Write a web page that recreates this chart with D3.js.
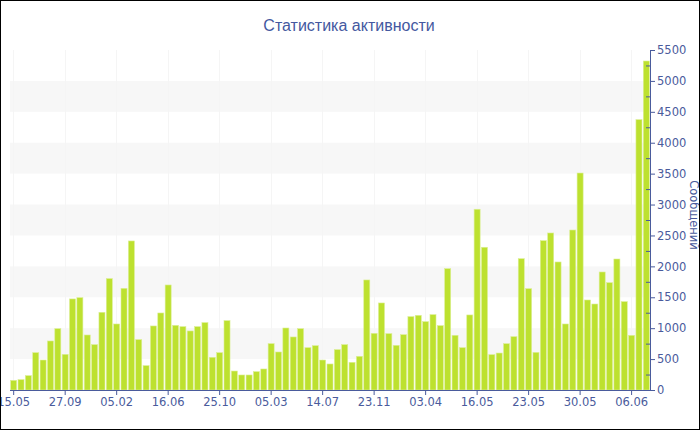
<!DOCTYPE html>
<html>
<head>
<meta charset="utf-8">
<script src="https://cdn.jsdelivr.net/npm/d3@7"></script>
<style>
  html, body { margin: 0; padding: 0; background: #fff; }
  svg { display: block; }
</style>
</head>
<body>
<script>
const titleText = "Статистика активности";
const axisTitle = "Сообщений";
const values = [156,167,232,604,485,793,992,577,1473,1494,890,734,1257,1802,1068,1645,2411,815,394,1036,1246,
  1699,1046,1025,955,1025,1090,529,604,1122,307,243,243,297,340,750,615,1003,858,992,685,717,
  485,421,653,734,448,545,1780,917,1408,912,723,895,1187,1208,1106,1219,1041,1963,885,685,1214,2924,2309,
  572,598,749,863,2124,1639,609,2416,2540,2071,1068,2588,3510,1456,1391,1909,1736,2119,1429,884,4373,5322];
const categories = d3.range(values.length);
const tickLabels = ["15.05","27.09","05.02","16.06","25.10","05.03","14.07","23.11","03.04","16.05","23.05","30.05","06.06"];
const tickEvery = 7;
const yTicks = [0,500,1000,1500,2000,2500,3000,3500,4000,4500,5000,5500];
const yMinorTicks = [250,750,1250,1750,2250,2750,3250,3750,4250,4750,5250];
const bandsFrom = [500,1500,2500,3500,4500];
const bandSize = 500;

const W = 700, H = 430;
const plot = { left: 10, right: 650, top: 50, bottom: 390 };
const blue = "#4a5b9c";
const barColor = "#bde12f";

const svg = d3.select("body").append("svg").attr("width", W).attr("height", H);
svg.append("rect").attr("x",0).attr("y",0).attr("width",W).attr("height",H).attr("fill","#fff");

const x = d3.scaleBand().domain(categories).range([plot.left, plot.right]).paddingInner(0.18).paddingOuter(0.09);
const y = d3.scaleLinear().domain([0, 5500]).range([plot.bottom, plot.top]);

// plot bands
svg.append("g").selectAll("rect").data(bandsFrom).join("rect")
  .attr("x", plot.left).attr("width", plot.right - plot.left)
  .attr("y", d => y(d + bandSize)).attr("height", d => y(d) - y(d + bandSize))
  .attr("fill", "#f7f7f7");

const xTickVals = tickLabels.map((_, i) => i * tickEvery);
// faint vertical grid lines
svg.append("g").selectAll("line").data(xTickVals).join("line")
  .attr("x1", d => x(d) + x.bandwidth()/2).attr("x2", d => x(d) + x.bandwidth()/2)
  .attr("y1", plot.top).attr("y2", plot.bottom)
  .attr("stroke", "#f5f5f5").attr("shape-rendering","crispEdges");

// bars
svg.append("g").selectAll("rect").data(values).join("rect")
  .attr("x", (d, i) => x(categories[i])).attr("width", x.bandwidth())
  .attr("y", d => y(d)).attr("height", d => y(0) - y(d))
  .attr("fill", barColor).attr("stroke", "#dcef96").attr("stroke-width", 0.6);

// x axis
const xAxis = d3.axisBottom(x).tickValues(xTickVals)
  .tickFormat(d => tickLabels[d / tickEvery]).tickSize(5).tickSizeOuter(0).tickPadding(3);
const gx = svg.append("g").attr("transform", `translate(0,${plot.bottom})`).call(xAxis);
gx.select(".domain").attr("stroke", blue).attr("d", `M${plot.left},0.5H${plot.right}`);
gx.selectAll(".tick line").attr("stroke", blue);
gx.selectAll(".tick text").attr("fill", blue).style("font-family", "DejaVu Sans, Verdana, sans-serif").style("font-size", "11.5px");

// y axis (right)
const yAxis = d3.axisRight(y).tickValues(yTicks).tickSize(5).tickSizeOuter(0).tickPadding(2).tickFormat(d3.format("d"));
const gy = svg.append("g").attr("transform", `translate(${plot.right},0)`).call(yAxis);
gy.select(".domain").attr("stroke", blue);
gy.selectAll(".tick line").attr("stroke", blue);
gy.selectAll(".tick text").attr("fill", blue).style("font-family", "DejaVu Sans, Verdana, sans-serif").style("font-size", "11.5px");

const yMinor = d3.axisLeft(y).tickValues(yMinorTicks).tickSize(4).tickFormat("");
const gym = svg.append("g").attr("transform", `translate(${plot.right},0)`).call(yMinor);
gym.select(".domain").remove();
gym.selectAll(".tick line").attr("stroke", blue);

// axis title
svg.append("text").attr("transform", `translate(694,${(plot.top+plot.bottom)/2 - 5}) rotate(90)`)
  .attr("text-anchor", "middle").attr("dominant-baseline", "central")
  .attr("fill", blue).style("font-family", "DejaVu Sans, Verdana, sans-serif").style("font-size", "11.5px")
  .text(axisTitle);

// title
svg.append("text").attr("x", 349).attr("y", 31).attr("text-anchor", "middle")
  .attr("fill", "#4458a0").style("font-family", "Liberation Sans, Arial, sans-serif").style("font-size", "16px")
  .text(titleText);

// border
svg.append("rect").attr("x",0.5).attr("y",0.5).attr("width",W-1).attr("height",H-1)
  .attr("fill","none").attr("stroke","#000").attr("stroke-width",1);
</script>
</body>
</html>
